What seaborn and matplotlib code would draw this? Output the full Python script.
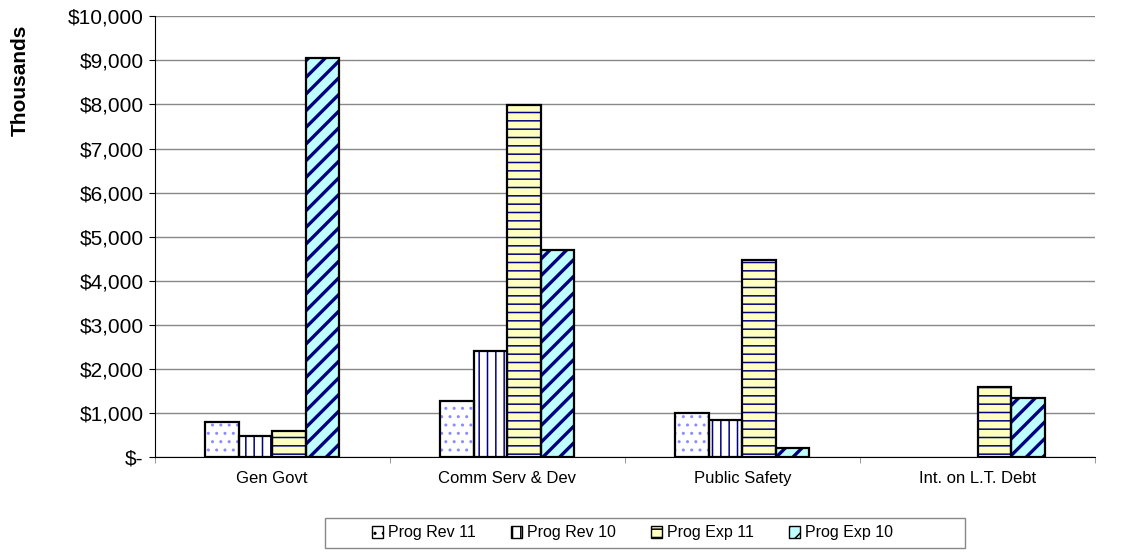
import pandas as pd
import matplotlib.pyplot as plt
import seaborn as sns
from matplotlib.patches import Rectangle, Patch
from matplotlib.ticker import FuncFormatter

# -------------------------------------------------------------------
# Data (thousands of dollars)
# -------------------------------------------------------------------

categories = ['Gen Govt', 'Comm Serv & Dev', 'Public Safety', 'Int. on L.T. Debt']
series = ['Prog Rev 11', 'Prog Rev 10', 'Prog Exp 11', 'Prog Exp 10']
prog_rev_11 = [790, 1280, 1000, 0]
prog_rev_10 = [480, 2410, 840, 0]
prog_exp_11 = [600, 7980, 4470, 1590]
prog_exp_10 = [9050, 4700, 200, 1340]

df = pd.DataFrame({
    'Category': categories * 4,
    'Series': [s for s in series for _ in categories],
    'Value': prog_rev_11 + prog_rev_10 + prog_exp_11 + prog_exp_10,
})

# fill colour, hatch, hatch colour, hatch width per series
fills = ['#FFFFFF', '#FFFFFF', '#FFFFC0', '#C0FFFF']
hatches = ['..', '||', '--', '//']
hatch_cols = ['#8C8CFF', '#000080', '#000080', '#000080']
hatch_lw = [1.0, 1.1, 1.1, 2.4]

plt.rcParams['font.family'] = ['Liberation Sans', 'DejaVu Sans']
plt.rcParams['hatch.linewidth'] = 1.1

fig = plt.figure(figsize=(11.29, 5.59), dpi=100)
ax = fig.add_axes([0.137, 0.182, 0.833, 0.789])

sns.barplot(data=df, x='Category', y='Value', hue='Series', order=categories,
            hue_order=series, palette=fills, width=0.57, ax=ax, legend=False,
            saturation=1)

# apply hatches, then draw black outlines on top
for i, container in enumerate(ax.containers):
    for bar in container:
        bar.set_hatch(hatches[i])
        bar.set_edgecolor(hatch_cols[i])
        bar.set_linewidth(0)
        if hasattr(bar, 'set_hatch_linewidth'):
            bar.set_hatch_linewidth(hatch_lw[i])
        if bar.get_height() > 0:
            ax.add_patch(Rectangle(bar.get_xy(), bar.get_width(), bar.get_height(),
                                   fill=False, edgecolor='black', linewidth=1.6, zorder=3))

ax.set_ylim(0, 10000)
ax.set_xlim(-0.5, len(categories) - 0.5)
ax.set_yticks(range(0, 10001, 1000))
ax.yaxis.set_major_formatter(FuncFormatter(lambda v, p: '$-' if v == 0 else f'${v:,.0f}'))
ax.grid(axis='y', color='#888888', linewidth=1)
ax.set_axisbelow(True)
ax.set_xticks(range(len(categories)))
ax.set_xticklabels(categories)
ax.set_xticks([i - 0.5 for i in range(len(categories) + 1)], minor=True)
ax.tick_params(axis='x', which='major', length=0, pad=10, labelsize=12)
ax.tick_params(axis='x', which='minor', length=4, color='#888888')
ax.tick_params(axis='y', length=4, labelsize=15, pad=4)
for side in ['top', 'right']:
    ax.spines[side].set_visible(False)
ax.spines['left'].set_color('black')
ax.spines['bottom'].set_color('black')
ax.set_xlabel('')
ax.set_ylabel('')
fig.text(20 / 1129, 1 - 80 / 559, 'Thousands', rotation=90, fontsize=15,
         fontweight='bold', ha='center', va='center')

# legend: entries without frame, plus a plain box around them
handles = [Patch(facecolor=fills[i], edgecolor='black', hatch=hatches[i]) for i in range(4)]
leg = fig.legend(handles, series, loc='center', bbox_to_anchor=(0.56, 1 - 533 / 559),
                 ncol=4, fontsize=11.5, frameon=False,
                 handlelength=0.7, handleheight=0.7, handletextpad=0.3, columnspacing=2.2)
fig.add_artist(Rectangle((325 / 1129, 1 - 548 / 559), 640 / 1129, 30 / 559,
                         transform=fig.transFigure, fill=False, edgecolor='#888888',
                         linewidth=1))

fig.savefig('out.png', dpi=100)
